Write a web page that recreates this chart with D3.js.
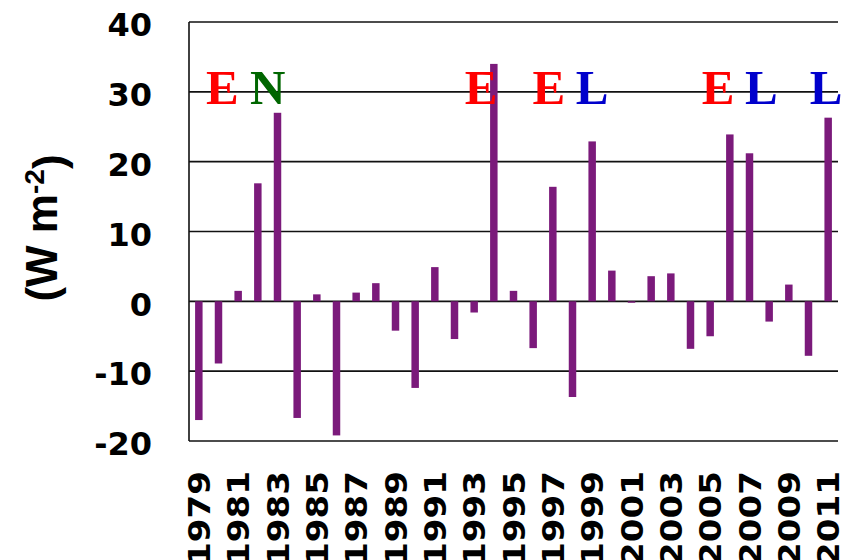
<!DOCTYPE html>
<html>
<head>
<meta charset="utf-8">
<script src="https://cdn.jsdelivr.net/npm/d3@7"></script>
<style>
  body { margin: 0; background: #fff; }
  .tick-y, .tick-x { font-family: "DejaVu Sans", sans-serif; font-weight: bold; fill: #000; }
  .ytitle { font-family: "Liberation Sans", Arial, sans-serif; font-weight: bold; font-size: 44px; }
  .event { font-family: "Liberation Serif", "Times New Roman", serif; font-weight: bold; font-size: 49px; }
</style>
</head>
<body>
<div id="chart"></div>
<script>
var width = 856, height = 560;

// yearly anomalies (W m-2)
var years = d3.range(1979, 2012);
var values = [-17.0, -8.9, 1.5, 16.9, 27.0, -16.7, 1.0, -19.2, 1.25, 2.6,
              -4.2, -12.4, 4.9, -5.4, -1.6, 34.0, 1.5, -6.7, 16.4, -13.7,
              22.9, 4.4, -0.2, 3.6, 4.0, -6.8, -5.0, 23.9, 21.2, -2.9,
              2.4, -7.8, 26.3];

// year labels shown on the x axis
var yearLabels = years.filter(function(y) { return (y - 1979) % 2 === 0; });
var yTicks = [-20, -10, 0, 10, 20, 30, 40];

// event letters: E = El Nino, L = La Nina, N = neutral
var eventLetters = ['E', 'N', 'E', 'E', 'L', 'E', 'L', 'L'];
var eventYears = [1980.2, 1982.5, 1993.35, 1996.8, 1999.0, 2005.4, 2007.6, 2010.9];
var eventColors = {E: '#ff0000', N: '#006600', L: '#0000cc'};

var margin = {left: 189, right: 18, top: 22, bottom: 119};

var svg = d3.select('#chart').append('svg')
  .attr('width', width)
  .attr('height', height);

var x = d3.scaleBand()
  .domain(years)
  .range([margin.left, width - margin.right])
  .paddingInner(0.62)
  .paddingOuter(0.31);

// continuous year position for the letters
var xYear = d3.scaleLinear()
  .domain([1979 - 0.5, 2011 + 0.5])
  .range([margin.left, width - margin.right]);

var y = d3.scaleLinear()
  .domain([-20, 40])
  .range([height - margin.bottom, margin.top]);

// gridlines
svg.append('g')
  .selectAll('line')
  .data(yTicks)
  .enter()
  .append('line')
  .attr('x1', margin.left)
  .attr('x2', width - margin.right)
  .attr('y1', function(d) { return y(d); })
  .attr('y2', function(d) { return y(d); })
  .attr('stroke', '#111')
  .attr('stroke-width', 1.6);

// left axis line
svg.append('line')
  .attr('x1', margin.left).attr('x2', margin.left)
  .attr('y1', y(40)).attr('y2', y(-20))
  .attr('stroke', '#111')
  .attr('stroke-width', 1.6);

// bars
svg.append('g')
  .selectAll('rect')
  .data(values)
  .enter()
  .append('rect')
  .attr('x', function(d, i) { return x(years[i]); })
  .attr('width', x.bandwidth())
  .attr('y', function(d) { return y(Math.max(0, d)); })
  .attr('height', function(d) { return Math.abs(y(d) - y(0)); })
  .attr('fill', '#7b1a7b');

// y tick labels
svg.append('g')
  .selectAll('text')
  .data(yTicks)
  .enter()
  .append('text')
  .attr('class', 'tick-y')
  .attr('x', 152)
  .attr('y', function(d) { return y(d) + 3; })
  .attr('dy', '0.35em')
  .attr('text-anchor', 'end')
  .style('font-size', '32px')
  .text(function(d) { return d; });

// x tick labels (rotated)
svg.append('g')
  .selectAll('text')
  .data(yearLabels)
  .enter()
  .append('text')
  .attr('class', 'tick-x')
  .attr('transform', function(d) {
    return 'translate(' + (x(d) + x.bandwidth() / 2) + ',471) rotate(-90) scale(1.1,1)';
  })
  .attr('dy', '0.36em')
  .attr('text-anchor', 'end')
  .style('font-size', '31px')
  .text(function(d) { return d; });

// y title
var title = svg.append('text')
  .attr('class', 'ytitle')
  .attr('transform', 'translate(57,228) rotate(-90)')
  .attr('text-anchor', 'middle');
title.append('tspan').text('(W m');
title.append('tspan').attr('dy', '-0.45em').style('font-size', '28px').text('-2');
title.append('tspan').attr('dy', '0.45em').text(')');

// event letters
svg.append('g')
  .selectAll('text')
  .data(eventLetters)
  .enter()
  .append('text')
  .attr('class', 'event')
  .attr('x', function(d, i) { return xYear(eventYears[i]); })
  .attr('y', 104)
  .attr('text-anchor', 'middle')
  .attr('fill', function(d) { return eventColors[d]; })
  .text(function(d) { return d; });
</script>
</body>
</html>
